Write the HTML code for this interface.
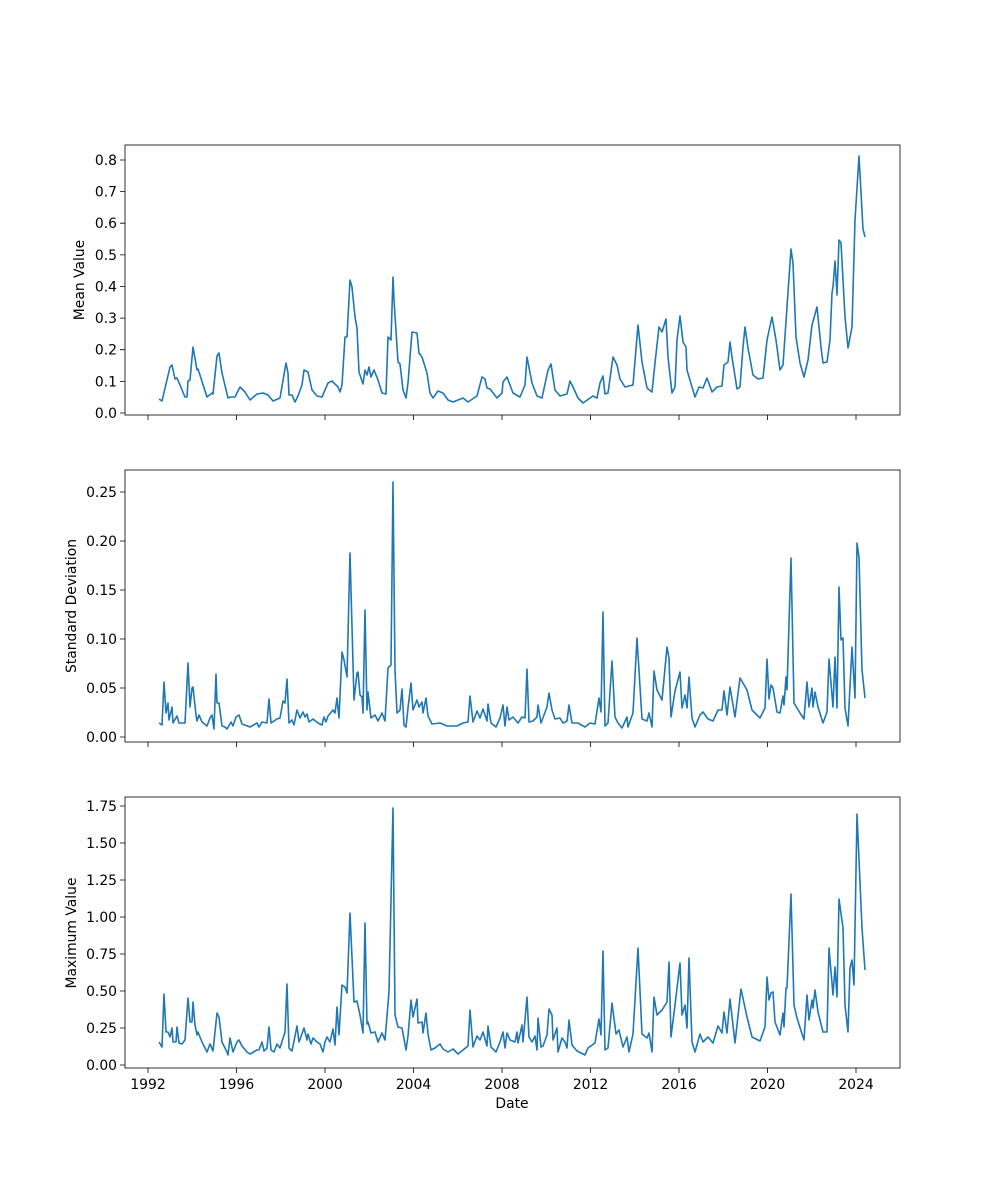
<!DOCTYPE html>
<html><head><meta charset="utf-8"><style>body{margin:0;background:#fff}svg{display:block}text{font-family:"DejaVu Sans","Liberation Sans",sans-serif;font-size:13.9px;fill:#000}</style></head><body>
<svg width="1000" height="1200" viewBox="0 0 1000 1200">
<g fill="none" stroke="#1f77b4" stroke-width="1.6" stroke-linejoin="round">
<polyline points="159,399 162,401 170,367 172,365 175,379 177,378 185,397 187,397 188,381 190,380 193,347 197,370 198,369 207,397 212,393 213,394 217,356 219,353 222,373 228,398 230,397 235,397 240,387 245,392 250,400 257,394 263,393 268,395 273,401 280,398 286,363 288,373 289,395 292,395 295,402 298,396 302,385 304,370 308,372 312,390 317,396 322,397 328,383 332,381 338,387 340,392 342,385 345,337 347,337 350,280 352,287 355,317 357,328 359,372 363,384 365,370 367,375 369,367 371,377 374,370 378,380 382,393 386,394 388,337 391,340 393,277 394,300 398,362 400,364 403,390 406,398 408,383 412,332 417,333 419,353 422,357 427,373 430,393 433,398 438,391 443,393 448,400 453,402 463,398 468,402 477,396 482,377 485,379 487,388 490,389 497,398 502,393 503,382 507,377 513,393 520,397 525,385 527,357 532,383 537,396 542,398 548,370 551,364 555,390 560,396 567,394 570,381 573,387 578,398 583,403 593,396 597,398 600,383 603,376 605,394 608,393 613,357 617,365 620,379 625,387 633,385 638,325 642,362 647,388 652,392 655,363 659,327 662,332 666,319 668,357 672,393 675,387 677,340 680,316 683,342 686,347 687,370 692,387 695,397 699,387 703,388 707,378 712,392 717,387 722,386 724,365 728,362 730,342 732,357 737,389 740,387 743,347 745,327 748,348 753,375 758,379 763,378 767,340 772,317 776,340 780,370 783,365 787,307 791,249 793,263 796,337 800,363 804,377 808,360 812,325 817,307 821,347 823,363 827,362 830,340 832,293 833,287 835,261 837,295 839,240 841,243 845,317 848,348 852,327 855,220 859,156 863,229 865,237"/>
<polyline points="159,723 162,725 164,682 166,713 168,703 169,720 172,707 173,723 177,716 179,723 185,723 188,663 190,707 192,688 193,687 196,715 197,721 199,715 202,722 207,726 210,718 212,715 214,729 216,674 217,703 219,703 222,726 225,727 227,729 231,722 233,726 236,717 239,715 242,724 250,727 257,723 259,727 262,722 267,723 269,699 271,723 277,719 280,718 283,701 285,703 287,679 289,723 292,720 294,725 297,710 300,718 303,712 305,717 307,714 309,722 313,719 318,723 322,725 324,717 326,722 328,716 333,710 335,713 337,698 339,718 342,652 344,660 347,677 350,553 354,700 357,673 358,672 360,695 362,697 363,713 365,610 367,710 368,692 371,718 375,715 378,721 382,713 385,721 388,668 391,665 393,482 395,670 397,713 400,710 402,689 404,725 406,727 408,708 411,683 413,710 417,700 419,707 422,702 423,713 426,698 428,716 432,724 440,723 447,726 457,726 463,723 468,722 470,696 473,722 477,711 480,718 483,709 487,721 488,704 491,723 496,727 500,718 503,705 505,726 507,707 509,720 513,717 518,723 522,717 525,718 527,669 529,722 533,721 537,717 538,705 541,723 547,707 549,693 552,710 555,719 560,718 563,723 567,721 569,705 572,723 578,723 585,727 590,723 595,724 599,698 601,712 603,612 605,726 608,723 612,661 615,717 618,723 622,728 627,717 628,727 633,713 637,638 642,719 647,721 649,713 652,727 654,671 657,690 662,700 667,647 669,658 671,717 675,691 680,672 682,708 685,695 687,708 689,677 692,718 695,727 700,715 703,712 708,719 713,721 718,710 722,710 724,691 727,715 730,687 735,717 740,678 747,690 752,710 760,718 765,708 767,659 769,699 771,685 773,688 777,712 780,713 783,696 784,705 786,677 787,690 791,558 794,703 800,713 804,719 807,682 809,707 812,688 813,707 815,692 818,707 823,723 827,712 829,659 833,707 835,657 837,708 839,587 841,640 843,638 845,708 848,726 852,647 855,698 857,543 859,557 862,670 865,698"/>
<polyline points="159,1042 162,1047 164,994 166,1032 168,1032 170,1037 172,1028 173,1042 176,1042 177,1027 179,1043 182,1044 185,1040 188,998 190,1022 192,1022 193,1002 195,1025 197,1035 198,1032 202,1042 207,1052 210,1044 213,1051 217,1013 219,1017 222,1042 227,1052 228,1055 230,1038 233,1052 237,1042 239,1040 242,1046 247,1052 250,1054 257,1050 259,1050 262,1042 264,1051 267,1048 269,1027 271,1050 274,1052 277,1044 280,1048 285,1032 287,984 289,1048 292,1051 297,1026 299,1042 304,1028 307,1040 308,1034 311,1044 313,1038 317,1042 320,1044 323,1052 325,1042 327,1037 330,1042 333,1029 335,1045 337,1007 339,1035 342,985 345,987 347,993 350,913 354,1002 357,1001 360,1015 363,1033 365,923 367,1024 368,1022 371,1033 375,1032 378,1042 382,1033 385,1040 389,992 393,808 395,1015 398,1027 402,1028 406,1050 408,1036 411,1000 413,1017 417,999 418,1023 422,1022 423,1033 426,1013 428,1034 431,1050 435,1048 440,1044 443,1049 448,1052 453,1049 458,1054 463,1050 468,1046 470,1010 473,1047 477,1036 480,1040 483,1032 487,1046 488,1026 491,1047 496,1052 500,1042 503,1032 505,1048 507,1033 510,1040 515,1042 517,1032 518,1043 522,1025 523,1042 527,997 529,1037 532,1042 535,1036 537,1050 538,1018 541,1047 543,1046 547,1035 549,1009 552,1015 553,1040 557,1028 558,1052 562,1038 565,1042 567,1048 569,1020 572,1045 577,1051 585,1055 588,1048 595,1043 599,1019 601,1035 603,951 605,1050 608,1048 612,1003 616,1034 619,1030 623,1047 627,1037 629,1052 633,1034 638,948 642,1034 647,1038 649,1033 652,1052 654,997 657,1015 662,1010 667,1002 669,962 671,1037 675,1005 680,963 682,1015 685,1005 687,1028 689,958 692,1042 695,1052 700,1034 703,1042 708,1037 713,1043 718,1026 722,1033 724,1012 727,1033 730,999 735,1043 741,989 747,1017 752,1037 760,1041 765,1027 767,977 769,1000 771,993 773,992 775,1022 780,1035 783,1013 784,1027 786,988 787,988 791,894 794,1005 797,1018 802,1034 804,1040 807,995 809,1020 812,1000 813,1008 815,990 818,1012 823,1032 827,1032 829,948 833,995 835,967 837,997 839,899 843,928 845,1005 848,1032 850,968 852,960 854,985 857,814 862,928 865,970"/>
</g>
<g fill="none" stroke="#000" stroke-width="0.8">
<rect x="125" y="145" width="775" height="270"/>
<rect x="125" y="470" width="775" height="272"/>
<rect x="125" y="797" width="775" height="271"/>
<path d="M148,415v5M236.5,415v5M325,415v5M413.5,415v5M502,415v5M590.5,415v5M679,415v5M767.5,415v5M856,415v5
M148,742v5M236.5,742v5M325,742v5M413.5,742v5M502,742v5M590.5,742v5M679,742v5M767.5,742v5M856,742v5
M148,1068v5M236.5,1068v5M325,1068v5M413.5,1068v5M502,1068v5M590.5,1068v5M679,1068v5M767.5,1068v5M856,1068v5
M120,413h5M120,381.4h5M120,349.7h5M120,318.1h5M120,286.5h5M120,254.9h5M120,223.2h5M120,191.6h5M120,160h5
M120,737h5M120,688h5M120,639h5M120,590h5M120,541h5M120,492h5
M120,1065h5M120,1028h5M120,991h5M120,954h5M120,917h5M120,880h5M120,843h5M120,806h5"/>
</g>
<g text-anchor="end">
<text x="117" y="418">0.0</text><text x="117" y="386.4">0.1</text><text x="117" y="354.7">0.2</text><text x="117" y="323.1">0.3</text><text x="117" y="291.5">0.4</text><text x="117" y="259.9">0.5</text><text x="117" y="228.2">0.6</text><text x="117" y="196.6">0.7</text><text x="117" y="165">0.8</text>
<text x="117" y="742">0.00</text><text x="117" y="693">0.05</text><text x="117" y="644">0.10</text><text x="117" y="595">0.15</text><text x="117" y="546">0.20</text><text x="117" y="497">0.25</text>
<text x="117" y="1070">0.00</text><text x="117" y="1033">0.25</text><text x="117" y="996">0.50</text><text x="117" y="959">0.75</text><text x="117" y="922">1.00</text><text x="117" y="885">1.25</text><text x="117" y="848">1.50</text><text x="117" y="811">1.75</text>
</g>
<g text-anchor="middle">
<text x="148" y="1089">1992</text><text x="236.5" y="1089">1996</text><text x="325" y="1089">2000</text><text x="413.5" y="1089">2004</text><text x="502" y="1089">2008</text><text x="590.5" y="1089">2012</text><text x="679" y="1089">2016</text><text x="767.5" y="1089">2020</text><text x="856" y="1089">2024</text>
<text x="512" y="1108">Date</text>
<text transform="translate(84,280) rotate(-90)">Mean Value</text>
<text transform="translate(76,606) rotate(-90)">Standard Deviation</text>
<text transform="translate(76,933) rotate(-90)">Maximum Value</text>
</g>
</svg>
</body></html>
